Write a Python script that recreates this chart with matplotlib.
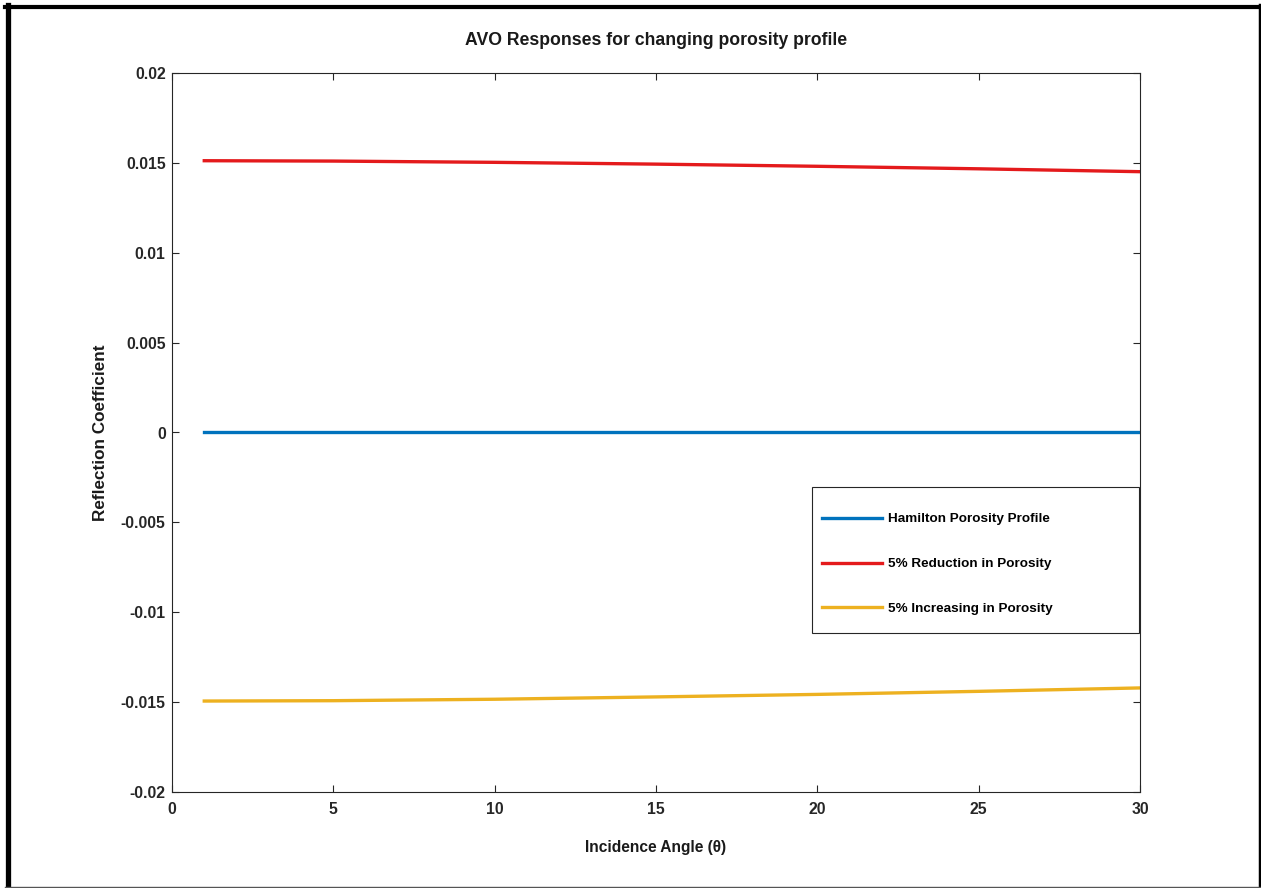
import matplotlib
matplotlib.use("Agg")
import matplotlib.pyplot as plt
from matplotlib.lines import Line2D
from matplotlib.patches import Rectangle

plt.rcParams['font.family'] = ['Liberation Sans', 'DejaVu Sans']

angles = [1, 5, 10, 15, 20, 25, 30]
hamilton = [0.0, 0.0, 0.0, 0.0, 0.0, 0.0, 0.0]
reduction = [0.01512, 0.01510, 0.01503, 0.01493, 0.01481, 0.01467, 0.01451]
increase = [-0.01494, -0.01492, -0.01484, -0.01471, -0.01457, -0.01440, -0.01421]

labels = ["Hamilton Porosity Profile", "5% Reduction in Porosity", "5% Increasing in Porosity"]
colors = ["#0072BD", "#E41A1C", "#EDB120"]

xticks = [0, 5, 10, 15, 20, 25, 30]
yticks = [-0.02, -0.015, -0.01, -0.005, 0, 0.005, 0.01, 0.015, 0.02]
yticklabels = ["-0.02", "-0.015", "-0.01", "-0.005", "0", "0.005", "0.01", "0.015", "0.02"]

W, H = 1261, 888
fig = plt.figure(figsize=(W / 100, H / 100), dpi=100)
ax = fig.add_axes([172 / W, 1 - 792 / H, (1140 - 172) / W, (792 - 73) / H])

for series, lab, col in zip([hamilton, reduction, increase], labels, colors):
    ax.plot(angles, series, color=col, lw=2.4, label=lab)

ax.set_xlim(0, 30)
ax.set_ylim(-0.02, 0.02)
ax.set_xticks(xticks)
ax.set_yticks(yticks)
ax.set_yticklabels(yticklabels)
ax.tick_params(direction='in', length=5, width=0.8, top=True, right=True,
               labelsize=11.3, colors='#262626', pad=4.5)
ax.tick_params(axis='x', pad=7.5)
for lbl in ax.get_xticklabels() + ax.get_yticklabels():
    lbl.set_fontweight('bold')
    lbl.set_color('#262626')
for sp in ax.spines.values():
    sp.set_color('#262626')
    sp.set_linewidth(0.8)

ax.set_title("AVO Responses for changing porosity profile", fontsize=12.7,
             fontweight='bold', pad=20, color='#1a1a1a')
ax.set_xlabel("Incidence Angle (θ)", fontsize=11.2, fontweight='bold', labelpad=16, color='#1a1a1a')
ax.set_ylabel("Reflection Coefficient", fontsize=12.3, fontweight='bold', labelpad=9, color='#1a1a1a')

# legend frame
ax.add_patch(Rectangle((0.661, 0.2211), 0.3378, 0.2031, transform=ax.transAxes,
                       facecolor='white', edgecolor='#262626', lw=0.8, zorder=4))
leg = ax.legend(loc='upper left', bbox_to_anchor=(0.6715, 0.388),
                fontsize=9.7, frameon=False,
                labelspacing=2.4, borderpad=0, handlelength=4.45, handletextpad=0.45,
                borderaxespad=0)
leg.set_zorder(5)
for t in leg.get_texts():
    t.set_fontweight('bold')

# figure border
fig.add_artist(Line2D([8 / W, 8 / W], [0, 1 - 5 / H], color='black', lw=3.8, transform=fig.transFigure))
fig.add_artist(Line2D([5 / W, 1], [1 - 7 / H, 1 - 7 / H], color='black', lw=3.0, transform=fig.transFigure))
fig.add_artist(Line2D([1259.5 / W, 1259.5 / W], [0, 1 - 5 / H], color='black', lw=2.5, transform=fig.transFigure))
fig.add_artist(Line2D([5 / W, 1], [1.5 / H, 1.5 / H], color='#555555', lw=1.0, transform=fig.transFigure))

fig.savefig("out.png", dpi=100)
